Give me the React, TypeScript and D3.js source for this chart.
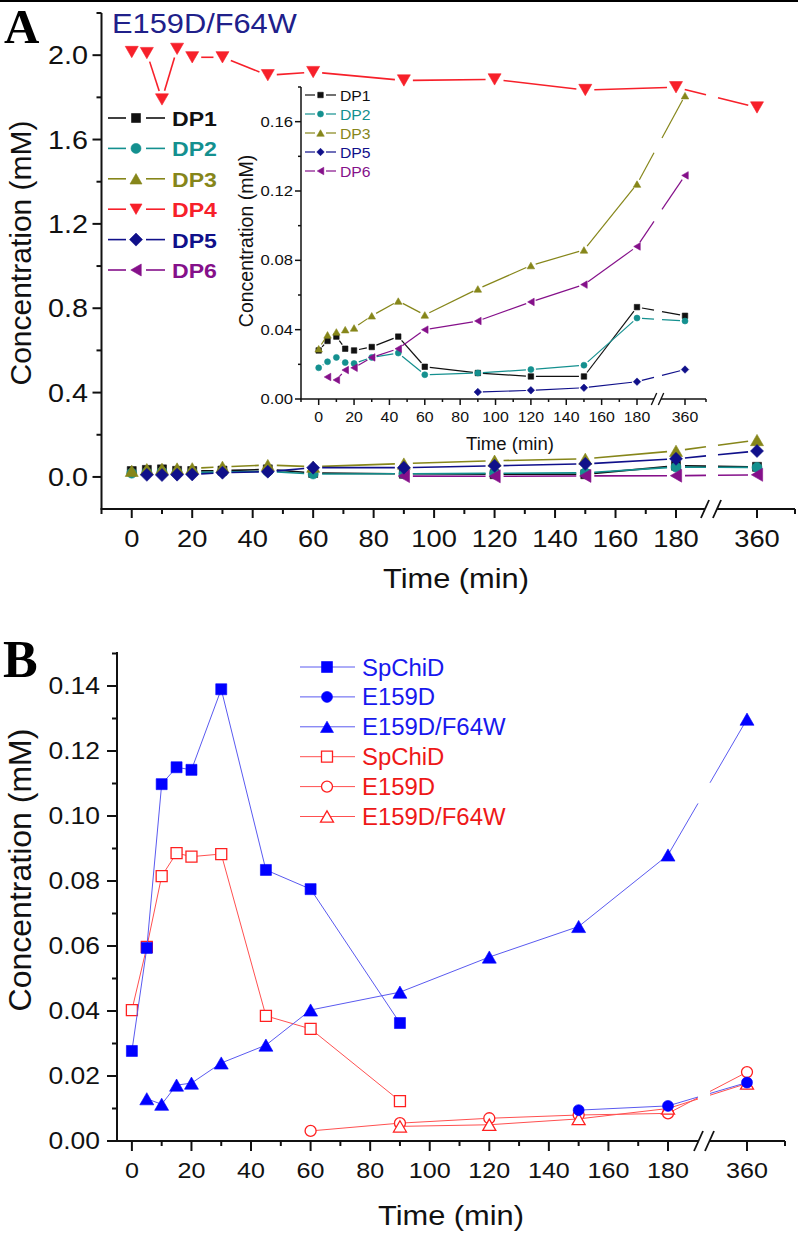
import React, { useRef, useEffect } from "react";
import * as d3 from "d3";

// ---------- data ----------
// time points (min)
const tAll = [0, 5, 10, 15, 20, 30, 45, 60, 90, 120, 150, 180, 360];
const tFrom5 = [5, 10, 15, 20, 30, 45, 60, 90, 120, 150, 180, 360];
const tFrom60 = [60, 90, 120, 150, 180, 360];
const tFrom90 = [90, 120, 150, 180, 360];
const tFrom150 = [150, 180, 360];
const tTo90 = [0, 5, 10, 15, 20, 30, 45, 60, 90];

// panel A (E159D/F64W), mM
const dp1 = [0.028, 0.0335, 0.036, 0.029, 0.028, 0.03, 0.036, 0.0186, 0.015, 0.013, 0.013, 0.053, 0.048];
const dp2 = [0.018, 0.0215, 0.024, 0.021, 0.0205, 0.024, 0.0265, 0.014, 0.015, 0.017, 0.0195, 0.0467, 0.045];
const dp3 = [0.029, 0.037, 0.0387, 0.04, 0.041, 0.048, 0.0565, 0.0485, 0.0635, 0.077, 0.086, 0.124, 0.175];
const dp4 = [2.015, 2.01, 1.79, 2.03, 1.99, 1.99, 1.905, 1.92, 1.88, 1.885, 1.835, 1.848, 1.752];
const dp5Inset = [0.004, 0.005, 0.0065, 0.01, 0.017];
const dp6Inset = [0.0127, 0.011, 0.0167, 0.018, 0.024, 0.029, 0.04, 0.045, 0.056, 0.066, 0.088, 0.129];
// in the main panel the DP5 / DP6 traces appear as drawn in the figure
const dp5Main = [0.01, 0.009, 0.011, 0.012, 0.02, 0.025, 0.044, 0.044, 0.053, 0.062, 0.086, 0.123];
const dp6Main = [0.004, 0.003, 0.005, 0.006, 0.01];

// panel B, mM
const spChiDBlue = [0.0277, 0.0594, 0.1098, 0.115, 0.1142, 0.139, 0.0834, 0.0775, 0.0363];
const spChiDRed = [0.0403, 0.0597, 0.0815, 0.0886, 0.0875, 0.0883, 0.0385, 0.0345, 0.0123];
const e159dBlue = [0.0095, 0.0108, 0.018];
const e159dRed = [0.0031, 0.0055, 0.007, 0.008, 0.0085, 0.0212];
const dblBlue = [0.013, 0.0113, 0.0172, 0.0178, 0.024, 0.0295, 0.0403, 0.0458, 0.0566, 0.066, 0.088, 0.1298];
const dblRed = [0.0045, 0.005, 0.0068, 0.01, 0.0177];

// ticks
const xMajor = [0, 20, 40, 60, 80, 100, 120, 140, 160, 180, 360];
const xMinor = [10, 30, 50, 70, 90, 110, 130, 150, 170];
const yMajorA = [0, 0.4, 0.8, 1.2, 1.6, 2.0];
const yMinorA = [0.2, 0.6, 1.0, 1.4, 1.8, 2.2];
const yMajorIn = [0, 0.04, 0.08, 0.12, 0.16];
const yMinorIn = [0.02, 0.06, 0.1, 0.14, 0.18];
const yMajorB = [0, 0.02, 0.04, 0.06, 0.08, 0.1, 0.12, 0.14];
const yMinorB = [0.01, 0.03, 0.05, 0.07, 0.09, 0.11, 0.13, 0.15];

const C = {
  dp1: "#111111",
  dp2: "#14908f",
  dp3: "#86861a",
  dp4: "#f7202a",
  dp5: "#10108a",
  dp6: "#85108a",
  blue: "#0000ff",
  blueLine: "#5a5af0",
  red: "#ff2020",
  redLine: "#ff5050",
};

const SANS = "'Liberation Sans', Arial, sans-serif";

type Marker = "square" | "circle" | "up" | "down" | "left" | "diamond";

function markerPath(m: Marker, s: number) {
  const h = s / 2;
  const th = s * 0.87;
  switch (m) {
    case "square":
      return `M${-h},${-h}h${s}v${s}h${-s}Z`;
    case "circle":
      return `M${-h},0a${h},${h} 0 1,0 ${s},0a${h},${h} 0 1,0 ${-s},0`;
    case "up":
      return `M0,${-th / 2}L${h},${th / 2}L${-h},${th / 2}Z`;
    case "down":
      return `M0,${th / 2}L${h},${-th / 2}L${-h},${-th / 2}Z`;
    case "left":
      return `M${-th / 2},0L${th / 2},${-h}L${th / 2},${h}Z`;
    case "diamond":
      return `M0,${-h}L${h},0L0,${h}L${-h},0Z`;
  }
}

const App: React.FC = () => {
  const svgRef = useRef<SVGSVGElement>(null);

  useEffect(() => {
    if (!svgRef.current) return;
    const svg = d3.select(svgRef.current);
    svg.selectAll("*").remove();

    const text = (
      x: number,
      y: number,
      s: string,
      o: { size: number; fill?: string; anchor?: string; weight?: string; sx?: number; rot?: boolean; family?: string }
    ) => {
      const tf = o.rot ? `translate(${x},${y}) rotate(-90)` : `translate(${x},${y}) scale(${o.sx ?? 1},1)`;
      svg
        .append("text")
        .attr("transform", tf)
        .attr("font-family", o.family ?? SANS)
        .attr("font-size", o.size)
        .attr("font-weight", o.weight ?? "normal")
        .attr("fill", o.fill ?? "#111")
        .attr("text-anchor", o.anchor ?? "start")
        .text(s);
    };

    const line = (x1: number, y1: number, x2: number, y2: number, color: string, w: number) => {
      svg
        .append("line")
        .attr("x1", x1)
        .attr("y1", y1)
        .attr("x2", x2)
        .attr("y2", y2)
        .attr("stroke", color)
        .attr("stroke-width", w);
    };

    const marker = (x: number, y: number, m: Marker, size: number, color: string, open = false) => {
      svg
        .append("path")
        .attr("d", markerPath(m, size)!)
        .attr("transform", `translate(${x},${y})`)
        .attr("fill", open ? "white" : color)
        .attr("stroke", color)
        .attr("stroke-width", open ? 1.3 : 0.6);
    };

    // series with Origin-like gap to symbol and a gap where the axis is broken
    const series = (
      xs: number[],
      ys: number[],
      sx: d3.ScaleLinear<number, number>,
      sy: d3.ScaleLinear<number, number>,
      o: { color: string; lineColor?: string; m: Marker; size: number; gap: number; lw: number; bx: number; bg: number; open?: boolean }
    ) => {
      const pts = xs.map((t, i) => [sx(t), sy(ys[i]), t] as [number, number, number]);
      for (let i = 0; i < pts.length - 1; i++) {
        const [x1, y1] = pts[i];
        const [x2, y2] = pts[i + 1];
        const len = Math.hypot(x2 - x1, y2 - y1);
        if (len <= 2 * o.gap) continue;
        const ux = (x2 - x1) / len;
        const uy = (y2 - y1) / len;
        const ax = x1 + ux * o.gap;
        const ay = y1 + uy * o.gap;
        const bx = x2 - ux * o.gap;
        const by = y2 - uy * o.gap;
        const lc = o.lineColor ?? o.color;
        if (pts[i + 1][2] === 360 && pts[i][2] <= 180) {
          const at = (xx: number) => [xx, y1 + ((xx - x1) / (x2 - x1)) * (y2 - y1)];
          const p = at(o.bx - o.bg / 2);
          const q = at(o.bx + o.bg / 2);
          line(ax, ay, p[0], p[1], lc, o.lw);
          line(q[0], q[1], bx, by, lc, o.lw);
        } else {
          line(ax, ay, bx, by, lc, o.lw);
        }
      }
      pts.forEach(([x, y]) => marker(x, y, o.m, o.size, o.color, o.open));
    };

    const axes = (
      sx: d3.ScaleLinear<number, number>,
      sy: d3.ScaleLinear<number, number>,
      o: {
        x0: number; x1: number; y0: number; y1: number; lw: number;
        yMaj: number[]; yMin: number[]; fmt: (v: number) => string;
        tMaj: number; tMin: number; fs: number; ylabX: number; yOff: number;
        xExtraMinor: number[]; xlabY: number; brk: number; brkGap: number; brkH: number;
      }
    ) => {
      // y axis
      line(o.x0, o.y1, o.x0, o.y0, "#111", o.lw);
      o.yMaj.forEach((v) => {
        line(o.x0 - o.tMaj, sy(v), o.x0, sy(v), "#111", o.lw);
        text(o.ylabX, sy(v) + o.yOff, o.fmt(v), { size: o.fs, anchor: "end", sx: 1.15 });
      });
      o.yMin.forEach((v) => line(o.x0 - o.tMin, sy(v), o.x0, sy(v), "#111", o.lw));
      // x axis with break
      line(o.x0 - o.lw / 2, o.y0, o.brk - o.brkGap / 2, o.y0, "#111", o.lw);
      line(o.brk + o.brkGap / 2, o.y0, o.x1, o.y0, "#111", o.lw);
      [o.brk - o.brkGap / 2, o.brk + o.brkGap / 2].forEach((bx) =>
        line(bx - o.brkH * 0.45, o.y0 + o.brkH, bx + o.brkH * 0.45, o.y0 - o.brkH, "#111", o.lw * 0.9)
      );
      xMajor.forEach((t) => {
        line(sx(t), o.y0, sx(t), o.y0 + o.tMaj, "#111", o.lw);
        text(sx(t), o.xlabY, String(t), { size: o.fs * 0.95, anchor: "middle", sx: 1.15 });
      });
      [...xMinor, ...o.xExtraMinor].forEach((t) => line(sx(t), o.y0, sx(t), o.y0 + o.tMin, "#111", o.lw));
    };

    // top rule
    svg.append("rect").attr("x", 0).attr("y", 0).attr("width", 798).attr("height", 2).attr("fill", "#000");

    // ================= panel A =================
    const xA = d3.scaleLinear().domain([-10, 180, 360, 372]).range([101.5, 676, 757, 795]);
    const yA = d3.scaleLinear().domain([-0.152, 2.2]).range([509, 13]);

    text(4, 43, "A", { size: 49, weight: "bold", family: "'Liberation Serif', 'Times New Roman', serif", fill: "#000" });
    text(112, 33, "E159D/F64W", { size: 28, fill: "#20208a", sx: 1.1 });

    axes(xA, yA, {
      x0: 101.5, x1: 795, y0: 509, y1: 13, lw: 2,
      yMaj: yMajorA, yMin: yMinorA, fmt: (v) => v.toFixed(1),
      tMaj: 9, tMin: 5, fs: 25, ylabX: 88, yOff: 9,
      xExtraMinor: [-10, 372], xlabY: 547, brk: 711, brkGap: 12, brkH: 9,
    });
    text(456, 588, "Time (min)", { size: 28, anchor: "middle", sx: 1.1 });
    text(31, 253, "Concentration (mM)", { size: 30, anchor: "middle", rot: true });

    const mainOpt = { gap: 9, lw: 1.6, bx: 712, bg: 12 };
    series(tAll, dp1, xA, yA, { ...mainOpt, color: C.dp1, m: "square", size: 9 });
    series(tAll, dp2, xA, yA, { ...mainOpt, color: C.dp2, m: "circle", size: 10 });
    series(tFrom90, dp6Main, xA, yA, { ...mainOpt, color: C.dp6, m: "left", size: 13 });
    series(tAll, dp3, xA, yA, { ...mainOpt, color: C.dp3, m: "up", size: 13 });
    series(tFrom5, dp5Main, xA, yA, { ...mainOpt, color: C.dp5, m: "diamond", size: 13 });
    series(tAll, dp4, xA, yA, { ...mainOpt, color: C.dp4, m: "down", size: 13 });

    // main legend
    const legA: [string, string, Marker, number][] = [
      ["DP1", C.dp1, "square", 9],
      ["DP2", C.dp2, "circle", 10],
      ["DP3", C.dp3, "up", 12],
      ["DP4", C.dp4, "down", 12],
      ["DP5", C.dp5, "diamond", 13],
      ["DP6", C.dp6, "left", 12],
    ];
    legA.forEach(([name, col, m, s], i) => {
      const cy = 118 + i * 30.4;
      line(108, cy, 126, cy, col, 1.6);
      line(146, cy, 165, cy, col, 1.6);
      marker(136, cy, m, s, col);
      text(172, cy + 8, name, { size: 21, weight: "bold", fill: col, sx: 1.1 });
    });

    // ---------- inset ----------
    const xI = d3.scaleLinear().domain([-10, 180, 360, 372]).range([301, 637, 685, 706]);
    const yI = d3.scaleLinear().domain([0, 0.18]).range([399, 87]);
    axes(xI, yI, {
      x0: 301, x1: 706, y0: 399, y1: 87, lw: 1.5,
      yMaj: yMajorIn, yMin: yMinorIn, fmt: (v) => v.toFixed(2),
      tMaj: 6, tMin: 3, fs: 14.5, ylabX: 293, yOff: 5,
      xExtraMinor: [-10, 372], xlabY: 422, brk: 657.5, brkGap: 7, brkH: 6,
    });
    text(510, 450, "Time (min)", { size: 18, anchor: "middle", sx: 1.03 });
    text(253, 241, "Concentration (mM)", { size: 19.5, anchor: "middle", rot: true });

    const inOpt = { gap: 5, lw: 1.2, bx: 658, bg: 8 };
    series(tAll, dp1, xI, yI, { ...inOpt, color: C.dp1, m: "square", size: 5.5 });
    series(tAll, dp2, xI, yI, { ...inOpt, color: C.dp2, m: "circle", size: 6 });
    series(tAll, dp3, xI, yI, { ...inOpt, color: C.dp3, m: "up", size: 7.5 });
    series(tFrom90, dp5Inset, xI, yI, { ...inOpt, color: C.dp5, m: "diamond", size: 7.5 });
    series(tFrom5, dp6Inset, xI, yI, { ...inOpt, color: C.dp6, m: "left", size: 7.5 });

    const legI: [string, string, Marker, number][] = [
      ["DP1", C.dp1, "square", 5.5],
      ["DP2", C.dp2, "circle", 6],
      ["DP3", C.dp3, "up", 7.5],
      ["DP5", C.dp5, "diamond", 7.5],
      ["DP6", C.dp6, "left", 7.5],
    ];
    legI.forEach(([name, col, m, s], i) => {
      const cy = 95 + i * 19;
      line(305, cy, 315, cy, col, 1.2);
      line(326, cy, 336, cy, col, 1.2);
      marker(320.5, cy, m, s, col);
      text(340, cy + 5.5, name, { size: 15, fill: col, sx: 1.05 });
    });

    // ================= panel B =================
    const xB = d3.scaleLinear().domain([-5, 180, 360, 373]).range([117, 668, 747, 785]);
    const yB = d3.scaleLinear().domain([0, 0.15]).range([1141, 653.5]);

    text(3, 677, "B", { size: 52, weight: "bold", family: "'Liberation Serif', 'Times New Roman', serif", fill: "#000" });

    axes(xB, yB, {
      x0: 117, x1: 785, y0: 1141, y1: 652, lw: 2,
      yMaj: yMajorB, yMin: yMinorB, fmt: (v) => v.toFixed(2),
      tMaj: 10, tMin: 5, fs: 23, ylabX: 100, yOff: 8,
      xExtraMinor: [373], xlabY: 1178, brk: 704, brkGap: 11, brkH: 10,
    });
    text(451, 1225, "Time (min)", { size: 28, anchor: "middle", sx: 1.1 });
    text(31, 870, "Concentration (mM)", { size: 32, anchor: "middle", rot: true });

    const bOpt = { gap: 0, lw: 1, bx: 704, bg: 12 };
    series(tTo90, spChiDRed, xB, yB, { ...bOpt, color: C.red, lineColor: C.redLine, m: "square", size: 11, open: true });
    series(tFrom60, e159dRed, xB, yB, { ...bOpt, color: C.red, lineColor: C.redLine, m: "circle", size: 11, open: true });
    series(tFrom90, dblRed, xB, yB, { ...bOpt, color: C.red, lineColor: C.redLine, m: "up", size: 13, open: true });
    series(tTo90, spChiDBlue, xB, yB, { ...bOpt, color: C.blue, lineColor: C.blueLine, m: "square", size: 11 });
    series(tFrom150, e159dBlue, xB, yB, { ...bOpt, color: C.blue, lineColor: C.blueLine, m: "circle", size: 11 });
    series(tFrom5, dblBlue, xB, yB, { ...bOpt, color: C.blue, lineColor: C.blueLine, m: "up", size: 14 });

    const legB: [string, string, string, Marker, number, boolean][] = [
      ["SpChiD", C.blue, C.blueLine, "square", 11, false],
      ["E159D", C.blue, C.blueLine, "circle", 11, false],
      ["E159D/F64W", C.blue, C.blueLine, "up", 13, false],
      ["SpChiD", C.red, C.redLine, "square", 11, true],
      ["E159D", C.red, C.redLine, "circle", 11, true],
      ["E159D/F64W", C.red, C.redLine, "up", 13, true],
    ];
    legB.forEach(([name, col, lc, m, s, open], i) => {
      const cy = 667 + i * 29.9;
      line(300, cy, 355, cy, lc, 1);
      marker(327, cy, m, s, col, open);
      text(362, cy + 8.5, name, { size: 23, fill: col === C.blue ? "#1818ee" : "#ee1818", sx: 1.04 });
    });
  }, []);

  return (
    <svg
      ref={svgRef}
      width={798}
      height={1236}
      style={{ position: "absolute", left: 0, top: 0, background: "#fff" }}
    />
  );
};

export default App;
